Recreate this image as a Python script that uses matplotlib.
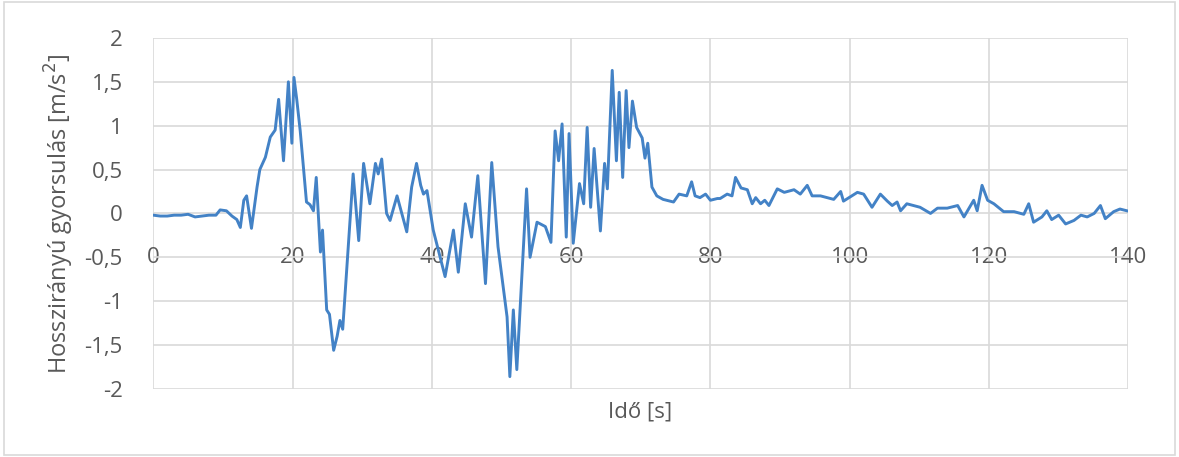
import matplotlib.pyplot as plt
from matplotlib.patches import Rectangle

# Idő [s]
ido = [0, 1, 2, 3, 4, 5, 6, 7, 8, 9, 9.6, 10.5, 11.3, 12.0, 12.5, 13.0, 13.4, 14.1,
       14.9, 15.3, 16.1, 16.8, 17.5, 18.0, 18.7, 19.4, 19.9, 20.2, 20.6, 21.1, 22.0,
       22.5, 23.0, 23.4, 24.0, 24.3, 24.9, 25.3, 25.9, 26.4, 26.8, 27.2, 28.7, 29.5,
       30.2, 31.1, 31.9, 32.3, 32.8, 33.5, 34.0, 35.0, 36.4, 37.1, 37.8, 38.4, 38.8,
       39.3, 40.2, 41.9, 43.1, 43.8, 44.8, 45.7, 46.6, 47.7, 48.6, 49.5, 50.8, 51.2,
       51.7, 52.2, 53.6, 54.1, 55.1, 56.3, 57.1, 57.7, 58.2, 58.7, 59.3, 59.7, 60.3,
       61.2, 61.8, 62.3, 62.8, 63.3, 64.2, 64.8, 65.2, 65.9, 66.5, 66.9, 67.4, 67.9,
       68.3, 68.8, 69.4, 70.2, 70.6, 71.0, 71.6, 72.3, 73.2, 74.7, 75.5, 76.6, 77.3,
       77.8, 78.5, 79.3, 80.0, 81.0, 81.4, 82.4, 83.1, 83.6, 84.4, 85.3, 86.0, 86.5,
       87.2, 87.8, 88.4, 89.6, 90.6, 92.0, 92.9, 93.9, 94.6, 95.8, 97.7, 98.7, 99.1,
       101.1, 102.0, 103.2, 104.4, 105.4, 106.1, 106.8, 107.3, 108.2, 110.1, 111.6,
       112.6, 114.0, 115.5, 116.4, 117.8, 118.3, 119.0, 119.8, 120.7, 122.1, 123.6,
       125.0, 125.7, 126.4, 127.6, 128.3, 129.0, 130.0, 131.0, 132.2, 133.2, 134.1,
       135.1, 136.0, 136.7, 137.9, 138.8, 139.8]

# Hosszirányú gyorsulás [m/s2]
gyorsulas = [-0.02, -0.03, -0.03, -0.02, -0.02, -0.01, -0.04, -0.03, -0.02, -0.02, 0.04,
             0.03, -0.03, -0.07, -0.16, 0.15, 0.2, -0.17,
             0.3, 0.5, 0.64, 0.87, 0.95, 1.3, 0.6, 1.5, 0.8, 1.55, 1.3, 0.94, 0.13,
             0.1, 0.03, 0.41, -0.44, -0.19, -1.1, -1.15, -1.56, -1.4, -1.22, -1.32, 0.45, -0.31,
             0.57, 0.11, 0.57, 0.45, 0.62, 0.0, -0.08, 0.2, -0.21, 0.3, 0.57, 0.32, 0.22,
             0.26, -0.19, -0.72, -0.19, -0.67, 0.11, -0.27, 0.43, -0.8, 0.58, -0.38, -1.18, -1.86,
             -1.1, -1.78, 0.28, -0.5, -0.1, -0.15, -0.33, 0.94, 0.6, 1.02, -0.27, 0.91, -0.34,
             0.34, 0.11, 0.98, 0.07, 0.74, -0.2, 0.57, 0.28, 1.63, 0.6, 1.38, 0.41, 1.4,
             0.75, 1.28, 0.98, 0.86, 0.63, 0.8, 0.3, 0.2, 0.16, 0.13, 0.22, 0.2, 0.36,
             0.2, 0.18, 0.22, 0.15, 0.17, 0.17, 0.22, 0.2, 0.41, 0.29, 0.27, 0.11, 0.18,
             0.11, 0.15, 0.09, 0.28, 0.24, 0.27, 0.22, 0.32, 0.2, 0.2, 0.16, 0.25, 0.14,
             0.24, 0.22, 0.07, 0.22, 0.14, 0.09, 0.13, 0.03, 0.11, 0.07, 0.0,
             0.06, 0.06, 0.09, -0.04, 0.15, 0.03, 0.32, 0.15, 0.11, 0.02, 0.02,
             -0.01, 0.11, -0.1, -0.04, 0.03, -0.07, -0.02, -0.12, -0.08, -0.02, -0.04,
             0.0, 0.09, -0.06, 0.02, 0.05, 0.03]

x_ticks = [0, 20, 40, 60, 80, 100, 120, 140]
y_ticks = [-2, -1.5, -1, -0.5, 0, 0.5, 1, 1.5, 2]
y_labels = ["-2", "-1,5", "-1", "-0,5", "0", "0,5", "1", "1,5", "2"]

plt.rcParams['font.family'] = ['Open Sans', 'DejaVu Sans']
szurke = '#595959'

fig = plt.figure(figsize=(11.79, 4.57), dpi=100)
ax = fig.add_axes([0.130, 0.149, 0.827, 0.768])

ax.plot(ido, gyorsulas, color='#4382c6', linewidth=2.1)

ax.set_xlim(0, 140)
ax.set_ylim(-2, 2)
ax.set_xticks(x_ticks)
ax.set_yticks(y_ticks)
ax.set_yticklabels(y_labels)
ax.grid(True, color='#d9d9d9', linewidth=1.2)
ax.set_axisbelow(True)
for s in ax.spines.values():
    s.set_visible(False)

# x tick labels sit under the zero line, like in Excel
ax.spines['bottom'].set_position(('data', 0))
ax.tick_params(axis='x', length=0, pad=24, labelsize=16, labelcolor=szurke)
ax.tick_params(axis='y', length=0, pad=22, labelsize=16, labelcolor=szurke)

ax.set_ylabel('Hosszirányú gyorsulás [m/s$^2$]', fontsize=17, color=szurke, labelpad=6)
fig.text(0.543, 0.098, 'Idő [s]', fontsize=16, color=szurke, ha='center', va='center')

fig.patches.append(Rectangle((0.003, 0.005), 0.994, 0.99, transform=fig.transFigure,
                             fill=False, edgecolor='#d9d9d9', linewidth=1.2))

plt.savefig('out.png', dpi=100)
